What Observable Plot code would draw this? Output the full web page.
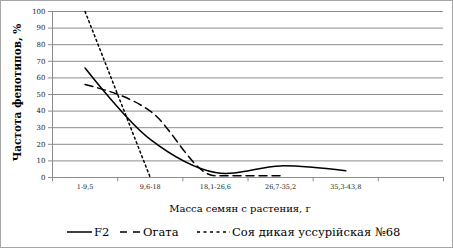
<!DOCTYPE html>
<html><head><meta charset="utf-8">
<script src="https://cdn.jsdelivr.net/npm/d3@7"></script>
<script src="https://cdn.jsdelivr.net/npm/@observablehq/plot@0.6"></script>
<style>
body{margin:0;background:#fff;font-family:"DejaVu Serif",serif;}
#wrap{position:relative;width:453px;height:248px;overflow:hidden;}
#border{position:absolute;left:0;top:0;width:453px;height:248px;box-sizing:border-box;border:1px solid #a6a6a6;pointer-events:none;}
#legend{position:absolute;left:0;top:222px;width:453px;height:20px;font-size:11.5px;color:#000;}
.item{display:flex;align-items:center;position:absolute;top:0;height:20px;white-space:nowrap;}
.item svg{margin-right:2px;}
</style></head>
<body><div id="wrap"><div id="chart"></div><div id="legend"></div><div id="border"></div></div>
<script>
const categories = ["1-9,5", "9,6-18", "18,1-26,6", "26,7-35,2", "35,3-43,8", ""];
const f2 = [66, 23, 3, 7, 4];
const ogata = [56, 40, 1, 1];
const wild = [100, 0];
const seriesNames = ["F2", "Огата", "Соя дикая уссурійская №68"];
const yTicks = [0,10,20,30,40,50,60,70,80,90,100];
const xTitle = "Масса семян с растения, г";
const yTitle = "Частота фенотипов, %";

const serif = "DejaVu Serif";
const toRows = (vals) => vals.map((v, i) => ({i, v}));
const bounds = d3.range(categories.length + 1).map(k => k - 0.5);

const chart = Plot.plot({
  width: 453, height: 222,
  marginLeft: 52, marginRight: 10, marginTop: 11, marginBottom: 45,
  style: {fontFamily: serif, fontSize: "7px", color: "#000", background: "transparent"},
  x: {type: "linear", domain: [-0.5, categories.length - 0.5]},
  y: {domain: [0, 100]},
  marks: [
    Plot.gridY(yTicks, {stroke: "#8c8c8c", strokeOpacity: 1, strokeWidth: 1}),
    Plot.ruleX([-0.5], {stroke: "#8c8c8c", strokeWidth: 1}),
    Plot.ruleX(bounds, {y1: 0, y2: -2.6, stroke: "#8c8c8c"}),
    Plot.axisY({ticks: yTicks, tickSize: 4, tickPadding: 3, stroke: "#8c8c8c", label: null, fill: "#222", fontSize: 7}),
    Plot.axisX({ticks: d3.range(categories.length - 1), tickFormat: i => categories[i], tickSize: 0, tickPadding: 7, label: null, fill: "#222", fontSize: 6.5}),
    Plot.line(toRows(wild), {x: "i", y: "v", stroke: "#000", strokeWidth: 1.5, strokeDasharray: "2,3"}),
    Plot.line(toRows(ogata), {x: "i", y: "v", stroke: "#000", strokeWidth: 1.5, strokeDasharray: "8,5", curve: "monotone-x"}),
    Plot.line(toRows(f2), {x: "i", y: "v", stroke: "#000", strokeWidth: 1.5, curve: "catmull-rom"}),
    Plot.text([yTitle], {frameAnchor: "left", rotate: -90, dx: -35, dy: -2, textAnchor: "middle", fontSize: 10.5, fontWeight: "bold", fill: "#000"}),
    Plot.text([xTitle], {frameAnchor: "bottom", dy: 34, dx: -8, fontSize: 10, fill: "#000"})
  ]
});
document.getElementById("chart").appendChild(chart);

const legend = document.getElementById("legend");
const dashes = [null, "7,6", "3,3.5"];
const lefts = [67, 120, 197];
const lens = [25, 21, 33];
seriesNames.forEach((name, k) => {
  const it = document.createElement("div");
  it.className = "item";
  it.style.left = lefts[k] + "px";
  it.innerHTML = `<svg width="${lens[k]}" height="6"><line x1="0" y1="3" x2="${lens[k]}" y2="3" stroke="#000" stroke-width="1.5" ${dashes[k] ? `stroke-dasharray="${dashes[k]}"` : ""}/></svg><span>${name}</span>`;
  legend.appendChild(it);
});
</script>
</body></html>
